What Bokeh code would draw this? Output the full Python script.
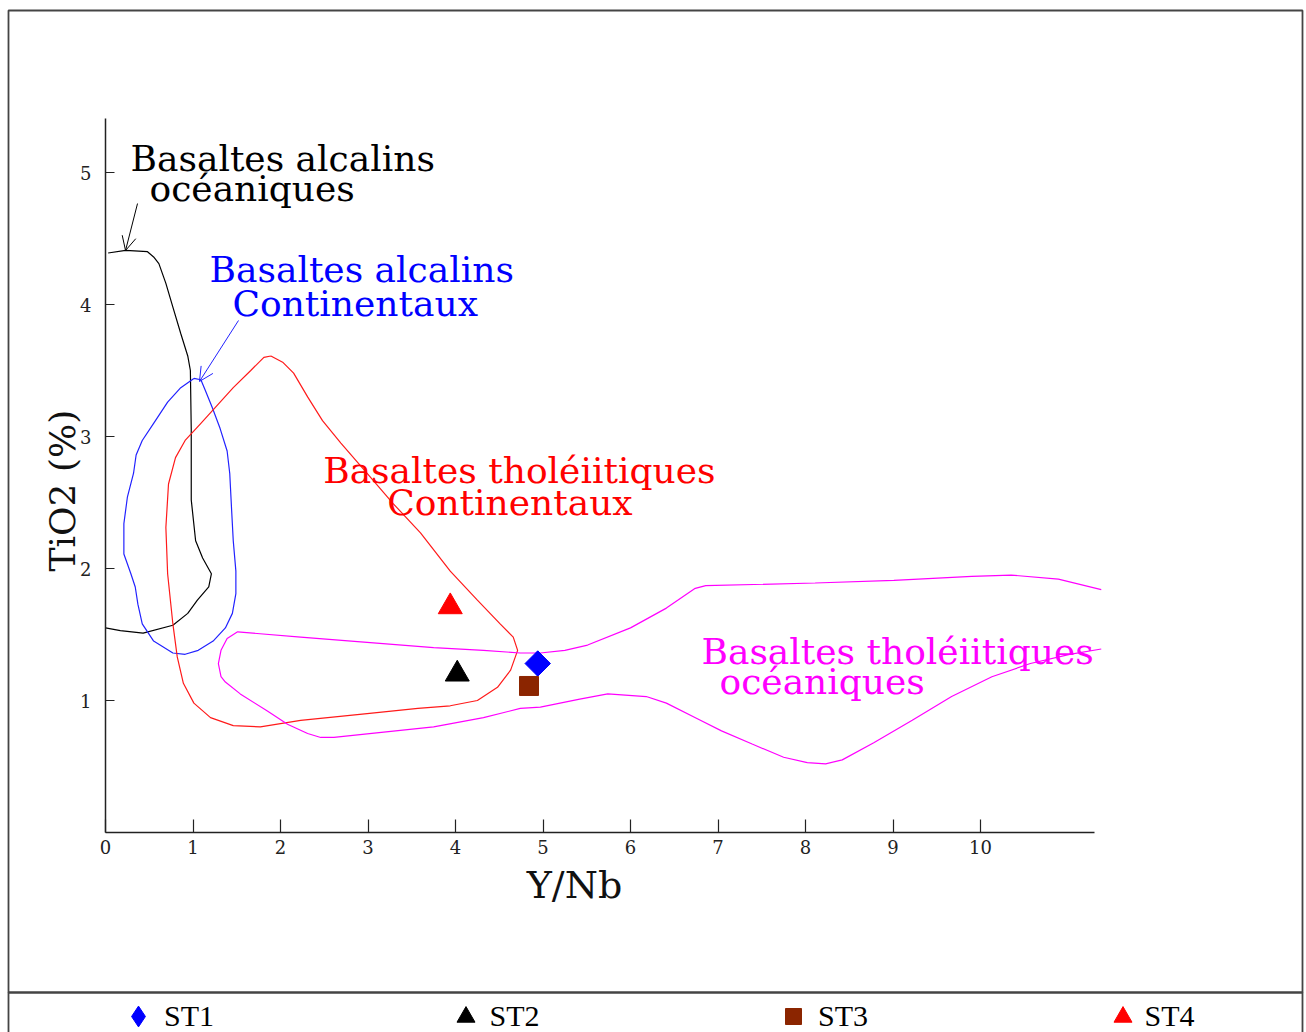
import numpy as np
from bokeh.plotting import figure
from bokeh.models import (Range1d, FixedTicker, Label, Arrow, OpenHead,
                          BoxAnnotation, Legend, LegendItem)
from bokeh.embed import file_html
from bokeh.resources import INLINE

# ---------------- data ----------------
x_ticks = [0, 1, 2, 3, 4, 5, 6, 7, 8, 9, 10]
y_ticks = [1, 2, 3, 4, 5]

# Basaltes alcalins océaniques (black, open curve)
oab_x = [0.03, 0.23, 0.48, 0.55, 0.61, 0.69, 0.77, 0.86, 0.94, 0.97, 0.98, 0.98,
         1.03, 1.11, 1.21, 1.18, 1.05, 0.94, 0.77, 0.43, 0.17, 0.0]
oab_y = [4.39, 4.41, 4.40, 4.36, 4.31, 4.16, 3.98, 3.78, 3.61, 3.50, 3.05, 2.52,
         2.21, 2.08, 1.96, 1.86, 1.76, 1.66, 1.57, 1.51, 1.53, 1.55]

# Basaltes alcalins continentaux (blue, closed)
cab_x = [1.01, 0.86, 0.71, 0.55, 0.42, 0.35, 0.32, 0.25, 0.21, 0.21, 0.29, 0.34,
         0.37, 0.42, 0.55, 0.77, 0.91, 1.06, 1.23, 1.37, 1.45, 1.49, 1.49, 1.46,
         1.44, 1.42, 1.39, 1.31, 1.22, 1.14, 1.09, 1.01]
cab_y = [3.44, 3.37, 3.26, 3.10, 2.97, 2.86, 2.72, 2.54, 2.34, 2.11, 1.96, 1.86,
         1.73, 1.58, 1.45, 1.36, 1.35, 1.38, 1.45, 1.55, 1.66, 1.81, 1.98, 2.21,
         2.46, 2.72, 2.89, 3.06, 3.22, 3.35, 3.43, 3.44]

# Basaltes tholéiitiques continentaux (red, closed)
ctb_x = [1.89, 2.03, 2.15, 2.31, 2.48, 2.69, 2.99, 3.29, 3.60, 3.94, 4.25, 4.51,
         4.66, 4.71, 4.63, 4.48, 4.25, 3.94, 3.57, 2.99, 2.23, 1.77, 1.46, 1.20,
         1.01, 0.89, 0.82, 0.77, 0.71, 0.69, 0.72, 0.80, 0.91, 1.09, 1.46, 1.66,
         1.81, 1.89]
ctb_y = [3.61, 3.56, 3.48, 3.30, 3.12, 2.95, 2.72, 2.49, 2.27, 1.98, 1.76, 1.58,
         1.48, 1.38, 1.23, 1.10, 1.00, 0.96, 0.94, 0.90, 0.85, 0.80, 0.81, 0.87,
         0.98, 1.13, 1.33, 1.58, 1.96, 2.31, 2.64, 2.84, 2.97, 3.10, 3.37, 3.50,
         3.60, 3.61]

# Basaltes tholéiitiques océaniques (magenta, open at the right)
otb_x = [11.38, 10.89, 10.35, 9.90, 9.01, 8.11, 6.86, 6.74, 6.41, 6.00, 5.51, 5.25,
         4.97, 4.74, 4.32, 3.75, 2.99, 2.23, 1.51, 1.39, 1.32, 1.29, 1.32, 1.37,
         1.54, 1.85, 2.08, 2.31, 2.46, 2.61, 3.18, 3.75, 4.32, 4.74, 4.97, 5.42,
         5.74, 6.18, 6.41, 6.77, 7.04, 7.39, 7.75, 8.02, 8.23, 8.42, 8.78, 9.22,
         9.67, 10.13, 10.57, 11.02, 11.38]
otb_y = [1.84, 1.92, 1.95, 1.94, 1.91, 1.89, 1.87, 1.85, 1.70, 1.55, 1.42, 1.38,
         1.36, 1.36, 1.38, 1.40, 1.44, 1.48, 1.52, 1.47, 1.38, 1.28, 1.18, 1.14,
         1.05, 0.92, 0.82, 0.75, 0.72, 0.72, 0.76, 0.80, 0.87, 0.94, 0.95, 1.01,
         1.05, 1.03, 0.98, 0.86, 0.77, 0.67, 0.57, 0.53, 0.52, 0.55, 0.68, 0.85,
         1.03, 1.18, 1.28, 1.35, 1.39]

samples = ["ST1", "ST2", "ST3", "ST4"]
sample_x = [4.94, 4.02, 4.84, 3.94]
sample_y = [1.28, 1.20, 1.11, 1.71]

SERIF = "DejaVu Serif"

# ---------------- figure (frame = whole page, axes pinned at 0) ----------------
PX_X, PX_Y = 87.5, 132.0          # pixels per unit
X0, Y0 = 105.0, 832.0             # page position of the origin
W, H = 1306, 1032
p = figure(width=W, height=H,
           x_range=Range1d(-X0 / PX_X, (W - X0) / PX_X),
           y_range=Range1d((Y0 - H) / PX_Y, Y0 / PX_Y),
           output_backend="svg", toolbar_location=None, min_border=0)
p.outline_line_color = None
p.grid.visible = False
p.background_fill_color = "white"
p.border_fill_color = "white"

for ax, b, tin in ((p.xaxis, (0, 11.30), 13), (p.yaxis, (0, 5.41), 9)):
    ax.fixed_location = 0
    ax.bounds = b
    ax.major_tick_in = tin
    ax.major_tick_out = 0
    ax.minor_tick_line_color = None
    ax.axis_line_color = "#222222"
    ax.axis_line_width = 1.5
    ax.major_tick_line_color = "#222222"
    ax.major_tick_line_width = 1.2
    ax.major_label_text_font = SERIF
    ax.major_label_text_font_size = "18px"
    ax.major_label_text_color = "#222222"

p.xaxis.ticker = FixedTicker(ticks=x_ticks)
p.yaxis.ticker = FixedTicker(ticks=y_ticks)
p.xaxis.major_label_standoff = 7
p.yaxis.major_label_standoff = 14

# ---------------- fields ----------------
p.line(oab_x, oab_y, line_color="black", line_width=1.2)
p.line(cab_x, cab_y, line_color="#2222ff", line_width=1.2)
p.line(ctb_x, ctb_y, line_color="#ff1a1a", line_width=1.2)
p.line(otb_x, otb_y, line_color="#ff00ff", line_width=1.2)

# ---------------- samples ----------------
# ST1: diamond (key glyph) under a rotated square (plot glyph)
r1 = p.scatter([sample_x[0]], [sample_y[0]], marker="diamond", size=25, color="#0000ff")
p.scatter([sample_x[0]], [sample_y[0]], marker="square", angle=np.pi / 4,
          size=18, color="#0000ff")
r2 = p.scatter([sample_x[1]], [sample_y[1]], marker="triangle", size=24, color="black")
r3 = p.scatter([sample_x[2]], [sample_y[2]], marker="square", size=19, color="#8b2500")
r4 = p.scatter([sample_x[3]], [sample_y[3]], marker="triangle", size=24, color="#ff0000")

# ---------------- field labels ----------------
labels = [
    ("Basaltes alcalins", 0.286, 5.106, "black"),
    ("océaniques", 0.503, 4.879, "black"),
    ("Basaltes alcalins", 1.189, 4.265, "#0000ff"),
    ("Continentaux", 1.451, 4.008, "#0000ff"),
    ("Basaltes tholéiitiques", 2.488, 2.745, "#ff0000"),
    ("Continentaux", 3.219, 2.500, "#ff0000"),
    ("Basaltes tholéiitiques", 6.811, 1.371, "#ff00ff"),
    ("océaniques", 7.017, 1.144, "#ff00ff"),
]
for t, lx, ly, c in labels:
    p.add_layout(Label(x=lx, y=ly, text=t, text_font=SERIF, text_font_size="36px",
                       text_color=c, text_align="left", text_baseline="alphabetic"))

p.add_layout(Arrow(x_start=0.366, y_start=4.765, x_end=0.229, y_end=4.409,
                   line_color="black", line_width=1,
                   end=OpenHead(size=14, line_color="black", line_width=1)))
p.add_layout(Arrow(x_start=1.52, y_start=3.879, x_end=1.074, y_end=3.417,
                   line_color="#2222ff", line_width=1,
                   end=OpenHead(size=14, line_color="#2222ff", line_width=1)))

# axis titles
p.add_layout(Label(x=5.36, y=-0.40, text="Y/Nb", text_font=SERIF, text_font_size="38px",
                   text_color="#111111", text_align="center", text_baseline="alphabetic"))
p.add_layout(Label(x=-0.49, y=2.59, text="TiO2 (%)", angle=np.pi / 2, text_font=SERIF,
                   text_font_size="36px", text_color="#111111", text_align="center",
                   text_baseline="middle"))

# ---------------- page frame ----------------
for top, bottom in ((10, 992), (992, 1060)):
    p.add_layout(BoxAnnotation(left=8, right=1302, top=top, bottom=bottom,
                               left_units="canvas", right_units="canvas",
                               top_units="canvas", bottom_units="canvas",
                               fill_color=None, fill_alpha=0,
                               line_color="#444444", line_alpha=1.0, line_width=1.8))

# ---------------- key row (one legend per sample) ----------------
key_cx = [138, 465, 793, 1122]      # page x of each key glyph centre
key_tx = [163, 490, 818, 1145]      # page x where each key text starts
key_box = [52, 45, 40, 45]          # glyph box -> marker size = 0.4 * box
KEY_CY = 1016
for s, r, cx, tx, bx in zip(samples, [r1, r2, r3, r4], key_cx, key_tx, key_box):
    lg = Legend(items=[LegendItem(label=s, renderers=[r])],
                orientation="horizontal",
                location=(cx - bx / 2, H - (KEY_CY + bx / 2)),
                glyph_width=bx, glyph_height=bx, label_height=bx,
                label_standoff=int(round(tx - (cx + bx / 2))),
                padding=0, margin=0, spacing=0,
                border_line_color=None, background_fill_alpha=0,
                label_text_font="Liberation Serif", label_text_font_size="30px",
                label_text_color="black")
    p.add_layout(lg)

open("out.html", "w").write(file_html(p, INLINE))
